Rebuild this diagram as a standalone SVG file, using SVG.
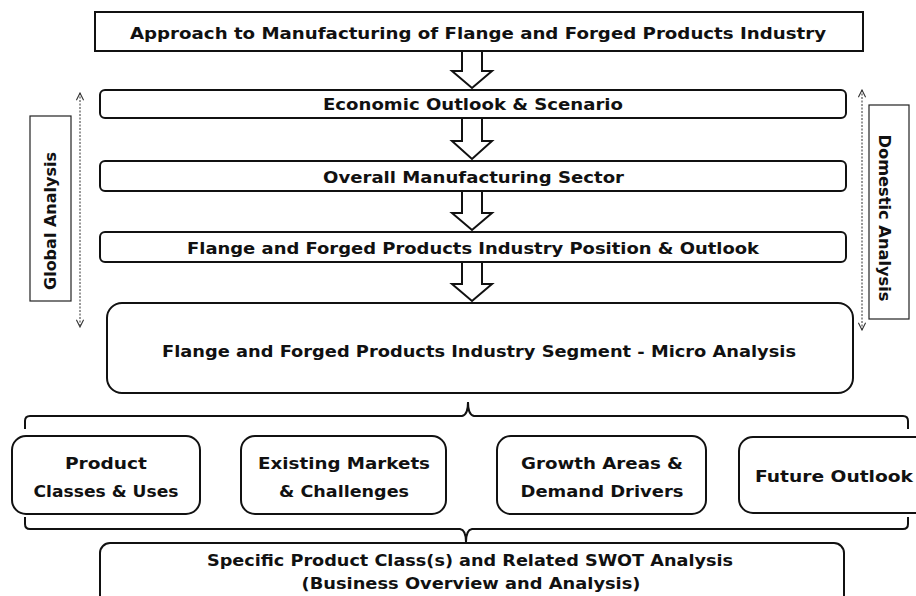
<svg xmlns="http://www.w3.org/2000/svg" width="916" height="596" viewBox="0 0 916 596">
<defs>
<style>
.box{fill:#fff;stroke:#111;stroke-width:2}
.side{fill:#fff;stroke:#222;stroke-width:1.2}
.t{font-family:"DejaVu Sans","Liberation Sans",sans-serif;font-weight:bold;font-size:16px;fill:#111;text-anchor:middle}
.harrow{fill:#fff;stroke:#111;stroke-width:2;stroke-linejoin:miter}
.dot{fill:none;stroke:#333;stroke-width:1;stroke-dasharray:2,1.5}
.brk{fill:none;stroke:#111;stroke-width:2}
</style>
<marker id="chev" viewBox="0 0 10 10" refX="9" refY="5" markerWidth="9" markerHeight="9" orient="auto-start-reverse" markerUnits="userSpaceOnUse">
<path d="M1,1 L9,5 L1,9" fill="none" stroke="#333" stroke-width="1.2"/>
</marker>
</defs>
<rect width="916" height="596" fill="#fff"/>

<g id="connectors">
<path class="harrow" d="M462,51 L482,51 L482,71 L492,71 L472,88 L452,71 L462,71 Z"/>
<path class="harrow" d="M462,118 L482,118 L482,141 L492,141 L472,159 L452,141 L462,141 Z"/>
<path class="harrow" d="M462,191 L482,191 L482,213 L492,213 L472,230 L452,213 L462,213 Z"/>
<path class="harrow" d="M462,262 L482,262 L482,284 L492,284 L472,301 L452,284 L462,284 Z"/>
<line class="dot" x1="80" y1="93" x2="80" y2="327" marker-start="url(#chev)" marker-end="url(#chev)"/>
<line class="dot" x1="862" y1="90" x2="862" y2="330" marker-start="url(#chev)" marker-end="url(#chev)"/>
<path class="brk" d="M25,429 L25,421 Q25,416 30,416 L462,416 Q468,415 468,402 Q468,415 474,416 L903,416 Q908,416 908,421 L908,429"/>
<path class="brk" d="M25,517 L25,524 Q25,529 30,529 L460,529 Q466,530 466,542 Q466,530 472,529 L903,529 Q908,529 908,524 L908,517"/>
</g>

<g id="title">
<rect class="box" x="95" y="12" width="768" height="39"/>
<text class="t" x="478" y="39" textLength="696" lengthAdjust="spacingAndGlyphs">Approach to Manufacturing  of Flange and Forged Products Industry</text>
</g>
<g id="economic">
<rect class="box" x="100" y="90" width="746" height="28" rx="5"/>
<text class="t" x="473" y="110" textLength="300" lengthAdjust="spacingAndGlyphs">Economic Outlook &amp; Scenario</text>
</g>
<g id="manufacturing">
<rect class="box" x="100" y="161" width="746" height="30" rx="5"/>
<text class="t" x="473.5" y="183" textLength="301" lengthAdjust="spacingAndGlyphs">Overall Manufacturing Sector</text>
</g>
<g id="position">
<rect class="box" x="100" y="232" width="746" height="30" rx="5"/>
<text class="t" x="473" y="254" textLength="572" lengthAdjust="spacingAndGlyphs">Flange and Forged Products Industry Position &amp; Outlook</text>
</g>
<g id="micro">
<rect class="box" x="107" y="303" width="746" height="90" rx="15"/>
<text class="t" x="479" y="357" textLength="634" lengthAdjust="spacingAndGlyphs">Flange and Forged Products Industry Segment - Micro Analysis</text>
</g>
<g id="global">
<rect class="side" x="30" y="116" width="41" height="185"/>
<text class="t" transform="translate(56,221) rotate(-90)" x="0" y="0" textLength="138" lengthAdjust="spacingAndGlyphs">Global Analysis</text>
</g>
<g id="domestic">
<rect class="side" x="869" y="105" width="40" height="214"/>
<text class="t" transform="translate(879,218) rotate(90)" x="0" y="0" textLength="167" lengthAdjust="spacingAndGlyphs">Domestic Analysis</text>
</g>
<g id="product">
<rect class="box" x="12" y="436" width="188" height="78" rx="14"/>
<text class="t" x="106" y="469" textLength="82" lengthAdjust="spacingAndGlyphs">Product</text>
<text class="t" x="106" y="497" textLength="145" lengthAdjust="spacingAndGlyphs">Classes  &amp; Uses</text>
</g>
<g id="markets">
<rect class="box" x="241" y="436" width="205" height="78" rx="14"/>
<text class="t" x="344" y="469" textLength="172" lengthAdjust="spacingAndGlyphs">Existing  Markets</text>
<text class="t" x="344" y="497" textLength="130" lengthAdjust="spacingAndGlyphs">&amp; Challenges</text>
</g>
<g id="growth">
<rect class="box" x="497" y="436" width="209" height="78" rx="14"/>
<text class="t" x="602" y="469" textLength="162" lengthAdjust="spacingAndGlyphs">Growth Areas &amp;</text>
<text class="t" x="602" y="497" textLength="163" lengthAdjust="spacingAndGlyphs">Demand Drivers</text>
</g>
<g id="future">
<rect class="box" x="739" y="437" width="190" height="76" rx="14"/>
<text class="t" x="834" y="482" textLength="158" lengthAdjust="spacingAndGlyphs">Future Outlook</text>
</g>
<g id="swot">
<rect class="box" x="100" y="543" width="744" height="70" rx="10"/>
<text class="t" x="470" y="566" textLength="526" lengthAdjust="spacingAndGlyphs">Specific Product Class(s) and Related SWOT Analysis</text>
<text class="t" x="471" y="589" textLength="339" lengthAdjust="spacingAndGlyphs">(Business  Overview and Analysis)</text>
</g>
</svg>
